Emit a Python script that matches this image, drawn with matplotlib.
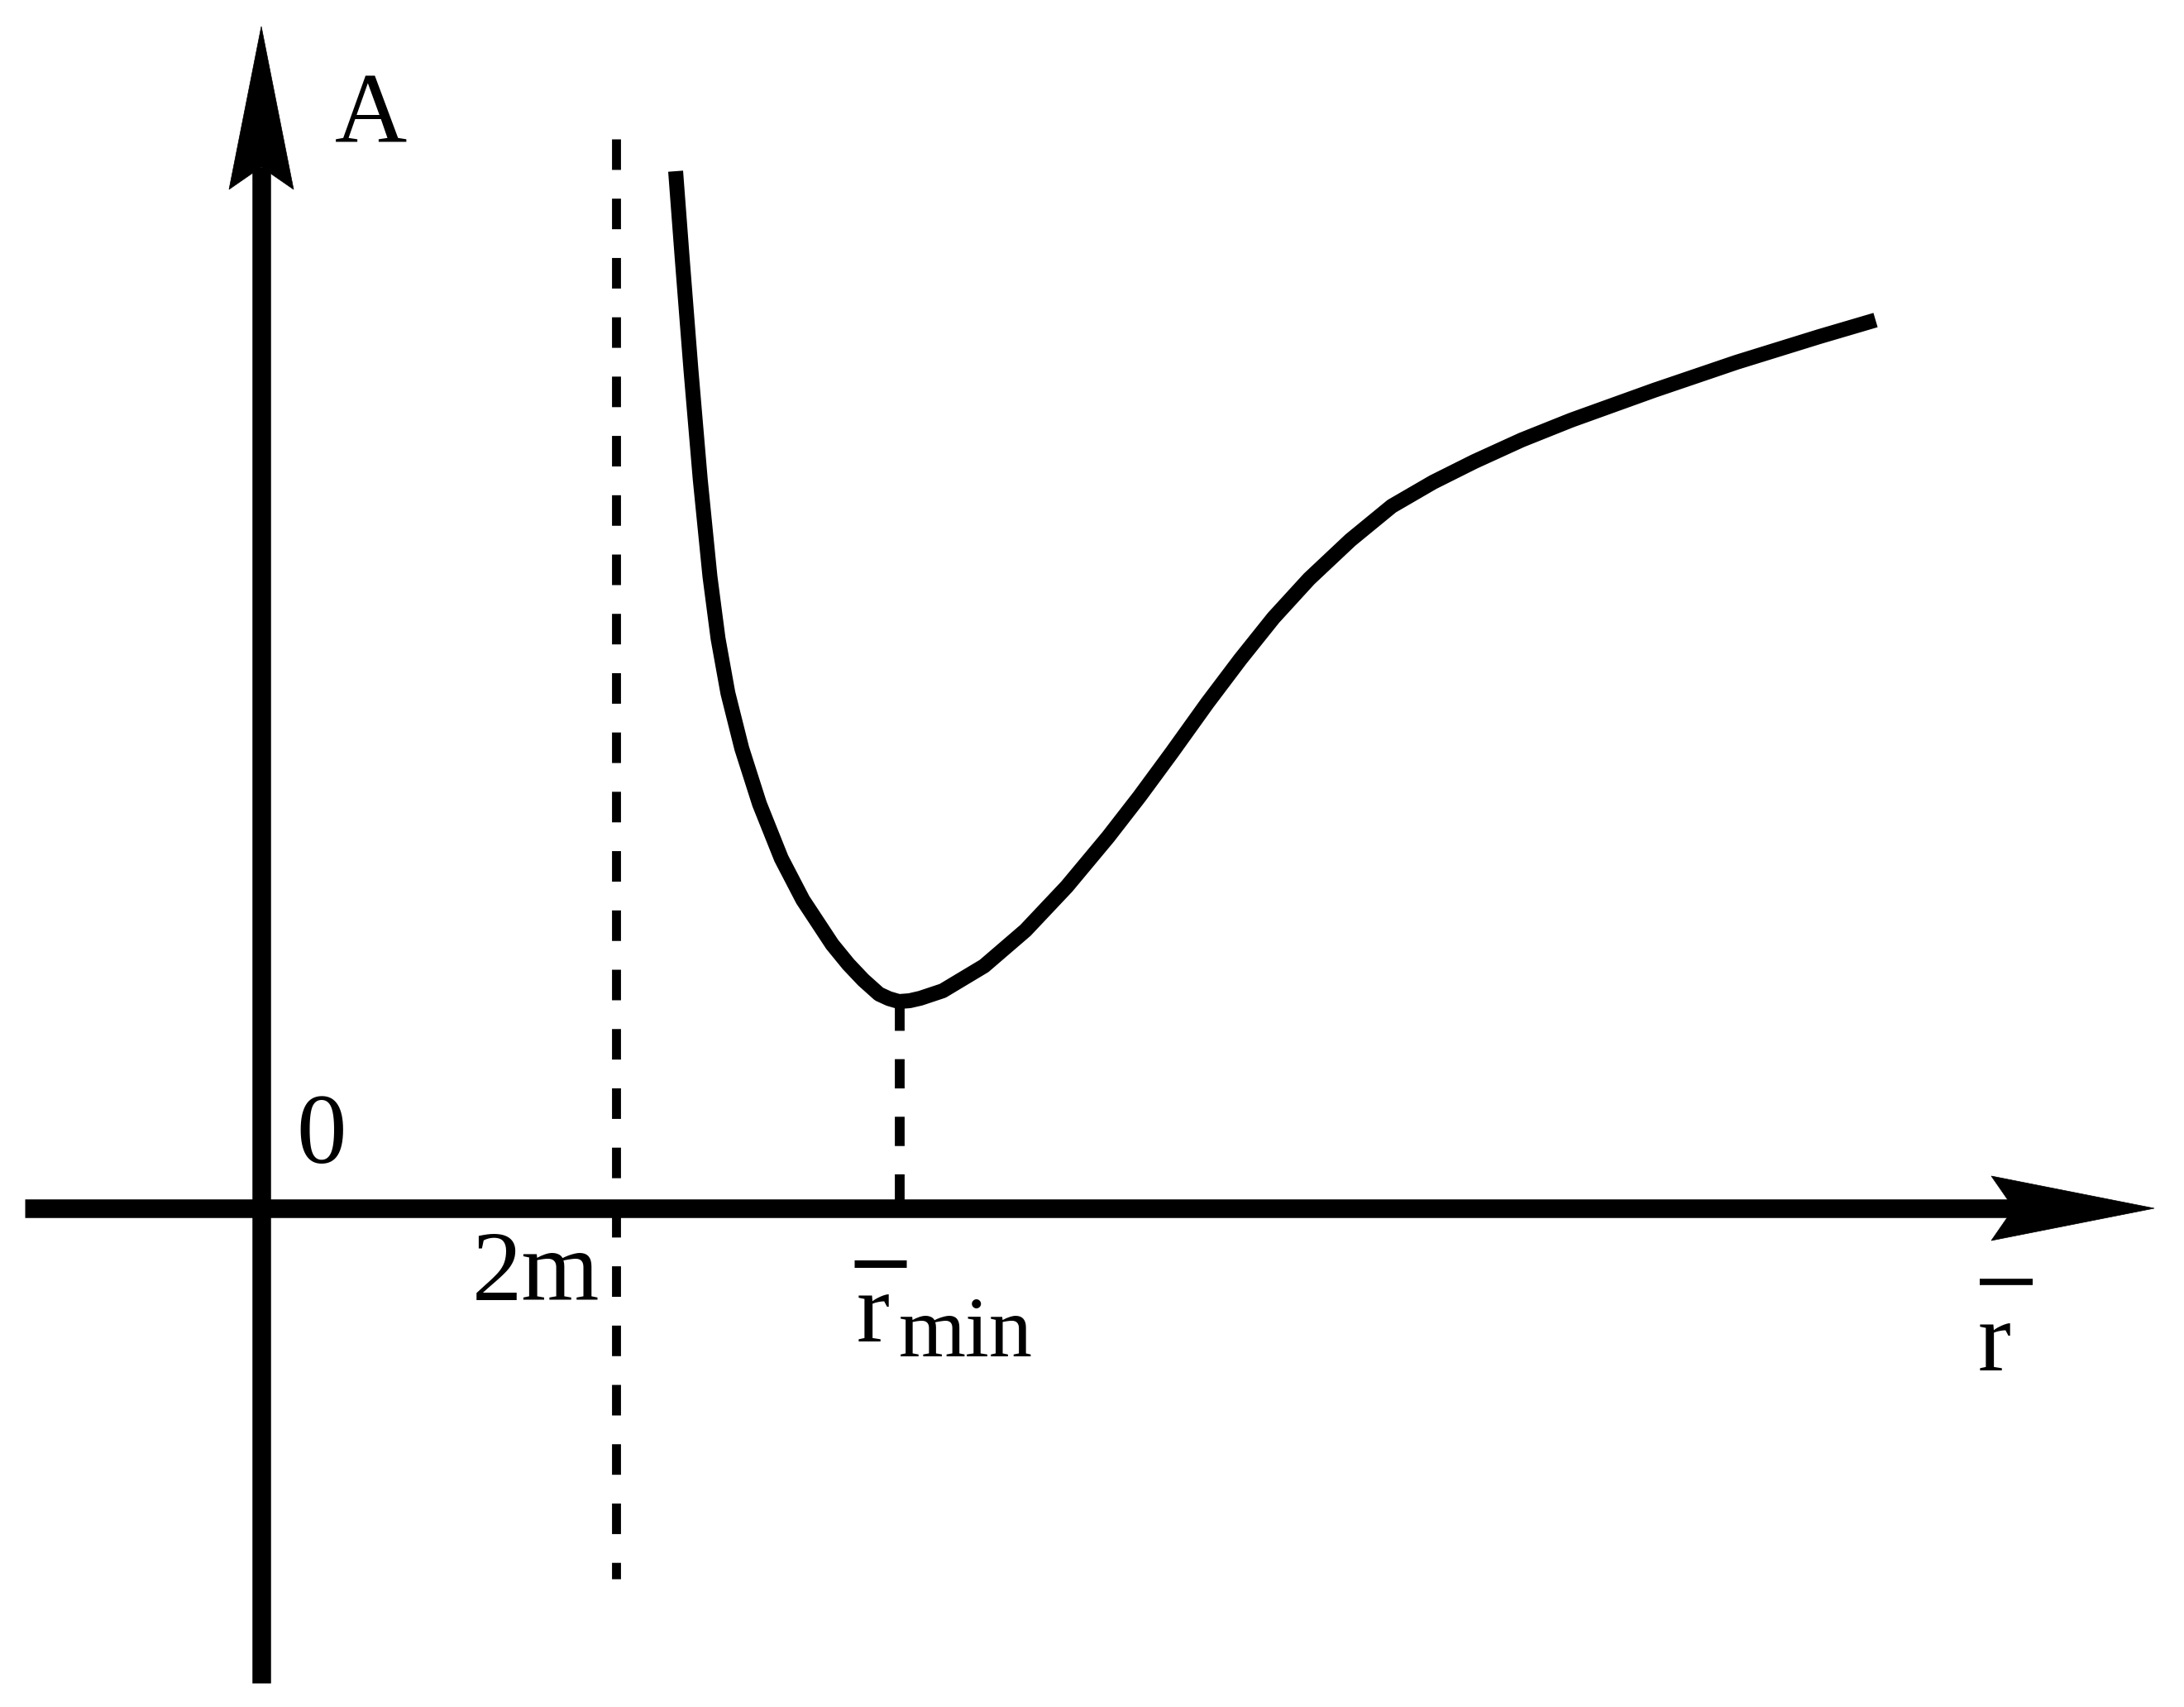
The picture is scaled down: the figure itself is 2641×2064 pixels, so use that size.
"""
plot.py

Schematic of A against r-bar: potential-like curve with a wall near 2m
and a minimum at r_min.
"""

import matplotlib
matplotlib.use("Agg")
import matplotlib.pyplot as plt
from matplotlib.patches import Polygon

# Curve (r, A), origin at the axes crossing
curve_r = [5.01, 5.09, 5.195, 5.308, 5.425, 5.523, 5.642, 5.81, 6.024, 6.288,
           6.548, 6.904, 7.10, 7.28, 7.47, 7.59, 7.71, 7.84, 7.97, 8.24,
           8.74, 9.24, 9.74, 10.24, 10.62, 11.01, 11.44, 11.84, 12.24,
           12.67, 13.17, 13.67, 14.17, 14.67, 15.24, 15.84, 16.84, 17.84,
           18.84, 19.52]
curve_A = [12.54, 11.48, 10.14, 8.81, 7.64, 6.89, 6.23, 5.56, 4.89, 4.23,
           3.73, 3.19, 2.95, 2.76, 2.59, 2.535, 2.50, 2.51, 2.54, 2.63,
           2.93, 3.36, 3.89, 4.49, 4.98, 5.51, 6.11, 6.64, 7.14,
           7.61, 8.08, 8.49, 8.78, 9.03, 9.29, 9.53, 9.89, 10.23,
           10.54, 10.74]

r_2m = 4.29
r_min = 7.72
A_min = 2.50
horizon_span = (12.93, -4.48)

# axis extents
x_axis = (-2.86, 22.89)
y_axis = (-5.74, 14.29)

tick_labels = {"A": "A", "origin": "0", "horizon": "2m", "rbar": "r", "sub": "min"}

BLACK = "black"
SERIF = "Liberation Serif"


def arrow_head(ax, tip, direction, length=1.97, half_width=0.39, notch=0.27):
    """Draws a dart shaped arrow head pointing along direction (unit vector)."""
    dx, dy = direction
    px, py = -dy, dx
    tx, ty = tip
    bx, by = tx - dx * length, ty - dy * length
    pts = [(tx, ty),
           (bx + px * half_width, by + py * half_width),
           (bx + dx * notch, by + dy * notch),
           (bx - px * half_width, by - py * half_width)]
    ax.add_patch(Polygon(pts, closed=True, facecolor=BLACK, edgecolor=BLACK,
                         linewidth=0.5, zorder=5))


fig = plt.figure(figsize=(26.41, 20.64), dpi=100)
ax = fig.add_axes([0, 0, 1, 1])
ax.set_xlim(-3.16, 23.25)
ax.set_ylim(-6.03, 14.61)
ax.axis("off")

axis_lw = 16.2

# r axis
ax.plot([x_axis[0], x_axis[1] - 1.7], [0, 0], color=BLACK, lw=axis_lw,
        solid_capstyle="butt", zorder=4)
arrow_head(ax, (x_axis[1], 0), (1, 0))

# A axis
ax.plot([0, 0], [y_axis[0], y_axis[1] - 1.7], color=BLACK, lw=axis_lw,
        solid_capstyle="butt", zorder=4)
arrow_head(ax, (0, y_axis[1]), (0, 1))

# dashed guides
ax.plot([r_2m, r_2m], horizon_span, color=BLACK, lw=7.8,
        dashes=(3.41, 3.21), dash_capstyle="butt", zorder=3)
ax.plot([r_min, r_min], [A_min, 0], color=BLACK, lw=8.5,
        dashes=(3.0, 2.9), dash_capstyle="butt", zorder=3)

# the curve
ax.plot(curve_r, curve_A, color=BLACK, lw=13, solid_capstyle="butt",
        solid_joinstyle="round", zorder=6)

# labels
fs = 87
ax.text(1.33, 12.89, tick_labels["A"], family=SERIF, fontsize=fs,
        ha="center", va="baseline")
ax.text(0.73, 0.55, tick_labels["origin"], family=SERIF, fontsize=fs,
        ha="center", va="baseline")
ax.text(3.32, -1.11, tick_labels["horizon"], family=SERIF, fontsize=fs,
        ha="center", va="baseline")

# r-bar with subscript min
ax.text(7.40, -1.61, tick_labels["rbar"], family=SERIF, fontsize=fs,
        ha="center", va="baseline")
ax.text(7.71, -1.79, tick_labels["sub"], family=SERIF, fontsize=75,
        ha="left", va="baseline")
ax.plot([7.17, 7.80], [-0.67, -0.67], color=BLACK, lw=6.5, solid_capstyle="butt")

# r-bar axis label
ax.text(20.96, -1.96, tick_labels["rbar"], family=SERIF, fontsize=fs,
        ha="center", va="baseline")
ax.plot([20.78, 21.42], [-0.89, -0.89], color=BLACK, lw=5.5, solid_capstyle="butt")

fig.savefig("out.png", dpi=100, facecolor="white")
